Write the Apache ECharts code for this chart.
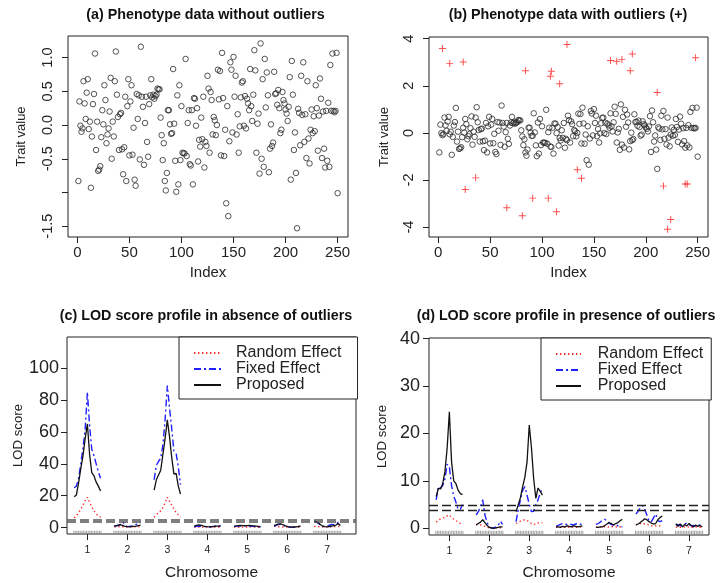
<!DOCTYPE html>
<html><head><meta charset="utf-8">
<script src="https://cdn.jsdelivr.net/npm/echarts@6/dist/echarts.min.js"></script>
<style>html,body{margin:0;padding:0;background:#fff}#c{width:720px;height:583px}</style>
</head><body><div id="c"></div>
<script>
// ---------- data ----------
const traitValues = [
-0.83, 0.35, -0.01, -0.10, -0.05, 0.65, 0.32, 0.09, 0.48, 0.68,
-0.06, 0.05, -0.93, -0.17, 0.31, 0.46, 1.06, -0.37, 0.05, -0.68,
-0.66, -0.61, -0.18, 0.22, 0.01, 0.59, 0.37, -0.27, -0.14, -0.05,
0.20, 0.70, -0.50, 0.05, -0.17, 0.65, 1.09, 0.45, 0.12, -0.37,
0.16, 0.18, -0.36, -0.73, -0.33, 0.42, -0.83, 0.28, 0.68, -0.45,
0.35, 0.59, -0.44, -0.04, -0.81, -0.90, 0.46, 0.09, 0.44, -0.51,
1.16, 0.42, 0.27, -0.59, 0.03, 0.42, -0.25, -0.47, 0.31, 0.44,
0.68, 0.41, 0.45, 0.39, 0.43, 0.45, 0.54, 0.53, 0.53, 0.11,
-0.15, -0.52, -0.27, -0.83, -0.97, -0.71, 0.22, 0.22, 0.01, -0.13,
-0.12, 0.83, 0.02, -0.53, -0.99, 0.44, -0.88, 0.59, -0.52, 0.28,
-0.41, -0.42, -0.42, 0.98, -0.46, 0.03, 0.22, -0.58, -0.60, 0.22,
-0.88, 0.40, 0.39, -0.01, 0.25, -0.54, -0.22, -0.32, 0.11, -0.21,
0.42, -0.63, -0.25, -0.31, 0.73, 0.54, -0.41, 0.49, 0.37, -0.14,
0.12, 0.07, -0.15, 0.00, 0.82, 0.38, 0.80, -0.45, 1.07, 0.40,
-0.46, -0.07, -1.16, 0.28, -1.35, -0.24, 0.93, 0.82, -0.11, 1.01,
0.42, 0.73, -0.14, 0.16, -0.41, -0.02, 0.41, 0.63, 0.65, -0.01,
0.43, -0.05, 0.39, 0.32, 0.22, 0.83, 0.28, 0.06, 0.45, 1.11,
0.81, -0.41, 0.02, 0.17, -0.72, 1.21, -0.50, 0.68, -0.62, 0.98,
0.26, 0.78, 0.44, -0.70, -0.35, 0.01, -0.31, -0.26, 0.79, 0.46,
0.47, 0.30, 0.52, 0.25, -0.12, -0.07, 0.49, 0.37, 0.32, 0.23,
0.17, 0.06, 0.27, 0.71, -0.81, 0.95, 0.45, -0.37, -0.11, -0.71,
-1.53, 0.24, 0.18, -0.30, 0.73, 0.15, 0.93, -0.25, 0.16, -0.49,
0.65, -0.20, -0.57, -0.07, 0.23, -0.12, 0.13, -0.09, 0.59, 0.25,
-0.38, 0.14, 0.69, 0.39, -0.49, 0.20, -0.35, -0.63, 0.21, -0.53,
0.33, -0.62, 0.89, 0.21, 1.06, 0.21, 0.19, 0.21, 1.07, -1.01
];
const outlierIndex = [4, 11, 24, 26, 36, 66, 81, 84, 91, 106, 108, 109, 114, 117, 124, 134, 138, 166, 172, 177, 185, 187, 211, 217, 221, 224, 238, 240, 248];
const outlierValue = [3.58, 2.94, 3.01, -2.40, -1.91, -3.18, -3.52, 2.64, -2.77, -2.77, 2.40, 2.62, -3.35, 2.09, 3.75, -1.57, -1.93, 3.07, 3.04, 3.12, 2.64, 3.35, 1.71, -2.26, -4.09, -3.68, -2.17, -2.17, 3.19];

const indexTicks = [0, 50, 100, 150, 200, 250];
const traitTicksA = [-1.5, -1.0, -0.5, 0.0, 0.5, 1.0];
const traitLabelsA = [-1.5, -0.5, 0.0, 0.5, 1.0];
const traitTicksB = [-4, -2, 0, 2, 4];
const lodTicksC = [0, 20, 40, 60, 80, 100];
const lodTicksD = [0, 10, 20, 30, 40];

const chromosomes = [1, 2, 3, 4, 5, 6, 7];
const positionOffsets = [-0.33, -0.275, -0.22, -0.165, -0.11, -0.055, 0, 0.055, 0.11, 0.165, 0.22, 0.275, 0.33];
const markerOffsets = [-0.34, -0.30, -0.26, -0.22, -0.18, -0.14, -0.10, -0.06, -0.02, 0.02, 0.06, 0.10, 0.14, 0.18, 0.22, 0.26, 0.30, 0.34];
const methodNames = ['Random Effect', 'Fixed Effect', 'Proposed'];
const thresholds = [3.72, 4.78];

const lodC_random = [
 [6.0, 7.5, 9.5, 11.5, 14.0, 17.0, 19.0, 16.0, 13.0, 10.5, 8.5, 7.5, 6.5],
 [0.5, 0.6, 0.6, 0.5, 0.5, 0.4, 0.4, 0.4, 0.5, 0.5, 0.6, 0.6, 0.6],
 [6.5, 8.0, 9.5, 10.5, 12.5, 15.5, 19.0, 16.5, 14.0, 11.5, 9.5, 8.0, 6.5],
 [0.3, 0.4, 0.3, 0.2, 0.3, 0.4, 0.3, 0.2, 0.3, 0.4, 0.3, 0.3, 0.2],
 [0.3, 0.5, 0.2, 0.6, 0.3, 0.5, 0.2, 0.5, 0.3, 0.4, 0.2, 0.3, 0.2],
 [0.8, 0.6, 0.5, 0.6, 0.4, 0.5, 0.3, 0.2, 0.2, 0.3, 0.3, 0.4, 0.4],
 [0.8, 0.7, 0.6, 0.5, 0.4, 0.4, 0.5, 0.5, 0.6, 0.6, 0.7, 0.8, 0.7]
];
const lodC_fixed = [
 [25, 26, 31, 40, 50, 62, 85, 64, 49, 45, 40, 35, 31],
 [1.0, 1.2, 1.5, 2.0, 3.5, 1.2, 0.6, 0.8, 1.0, 1.5, 2.0, 2.3, 3.2],
 [30, 39, 41.5, 43.5, 52, 68, 89, 75, 62, 48, 46.5, 38, 27],
 [0.5, 0.8, 1.0, 0.9, 0.7, 0.6, 0.5, 0.5, 0.6, 0.8, 1.0, 1.2, 1.0],
 [0.6, 0.9, 1.2, 1.0, 0.9, 1.1, 1.2, 1.0, 0.8, 0.9, 0.7, 0.5, 0.4],
 [1.0, 1.5, 2.0, 2.1, 1.7, 1.0, 0.5, 0.3, 0.3, 0.3, 0.4, 0.6, 0.8],
 [3.8, 3.4, 2.6, 1.5, 0.8, 0.6, 0.8, 1.5, 2.0, 1.9, 2.0, 3.4, 2.0]
];
const lodC_proposed = [
 [19.3, 20.5, 28, 37, 45, 56, 65, 46, 34.5, 32.5, 28.5, 26, 23],
 [1.0, 1.2, 1.5, 1.8, 1.3, 0.8, 0.6, 0.5, 0.6, 0.8, 1.0, 1.3, 1.5],
 [23.5, 30, 33, 36, 46, 56, 67.5, 57, 44, 33.5, 34, 26, 21],
 [0.8, 1.4, 1.7, 1.5, 1.1, 0.8, 0.6, 0.5, 0.6, 0.7, 0.9, 1.0, 0.9],
 [0.8, 1.1, 1.3, 1.4, 1.3, 1.2, 1.3, 1.4, 1.2, 1.0, 0.9, 0.8, 0.6],
 [1.2, 1.8, 2.2, 2.3, 1.8, 1.2, 0.7, 0.4, 0.3, 0.4, 0.5, 0.7, 1.0],
 [4.2, 3.8, 3.0, 1.8, 0.9, 0.6, 0.5, 0.7, 1.0, 1.3, 1.6, 2.5, 1.4]
];
const lodD_random = [
 [1.3, 1.7, 2.0, 2.1, 2.3, 2.6, 2.8, 2.3, 1.9, 1.6, 1.3, 1.0, 0.8],
 [0.8, 0.7, 0.7, 0.6, 0.4, 0.2, 0.1, 0.0, 0.0, 0.1, 0.1, 0.1, 0.1],
 [1.0, 1.3, 1.5, 1.7, 1.8, 1.6, 1.4, 1.0, 0.8, 0.9, 1.1, 1.2, 1.2],
 [0.2, 0.2, 0.3, 0.2, 0.2, 0.3, 0.2, 0.2, 0.3, 0.2, 0.2, 0.3, 0.2],
 [0.3, 0.2, 0.3, 0.4, 0.3, 0.2, 0.3, 0.4, 0.3, 0.3, 0.2, 0.3, 0.2],
 [0.7, 0.9, 1.0, 1.1, 0.9, 0.8, 0.7, 0.5, 0.6, 0.5, 0.4, 0.5, 0.4],
 [0.2, 0.3, 0.2, 0.2, 0.3, 0.2, 0.3, 0.2, 0.2, 0.3, 0.2, 0.2, 0.2]
];
const lodD_fixed = [
 [6.0, 8.8, 8.5, 9.0, 10.5, 13.5, 13.0, 9.0, 6.8, 5.5, 4.0, 4.0, 5.0],
 [2.8, 3.5, 4.6, 6.0, 2.8, 1.2, 0.3, 0.0, 0.1, 0.3, 0.6, 1.5, 0.8],
 [1.4, 4.0, 6.0, 8.0, 8.8, 7.0, 5.0, 3.5, 3.6, 5.0, 6.0, 7.5, 8.5],
 [0.4, 0.6, 0.8, 1.0, 0.9, 0.8, 0.9, 0.8, 0.7, 0.9, 1.0, 0.8, 1.0],
 [0.8, 1.0, 1.3, 1.8, 1.9, 1.6, 1.1, 0.8, 0.7, 0.9, 0.5, 0.4, 0.3],
 [3.0, 3.6, 4.3, 4.8, 4.0, 2.8, 1.5, 1.4, 2.2, 3.0, 1.6, 1.4, 1.6],
 [0.6, 0.8, 0.5, 0.7, 0.9, 1.1, 0.8, 0.5, 0.6, 0.4, 0.6, 0.7, 0.5]
];
const lodD_proposed = [
 [6.7, 8.4, 8.3, 9.5, 12.0, 17.0, 24.6, 14.0, 10.0, 9.4, 8.0, 7.3, 7.1],
 [0.7, 1.0, 1.3, 1.8, 1.2, 0.6, 0.2, 0.1, 0.0, 0.1, 0.2, 0.3, 0.3],
 [3.5, 5.0, 6.5, 8.8, 10.8, 14.0, 21.8, 17.0, 10.5, 6.3, 8.5, 7.8, 7.0],
 [0.3, 0.3, 0.2, 0.4, 0.3, 0.5, 0.4, 0.3, 0.5, 0.4, 0.3, 0.4, 0.5],
 [0.2, 0.2, 0.3, 0.3, 0.6, 0.9, 1.2, 1.0, 0.7, 1.0, 1.2, 1.6, 1.9],
 [0.7, 0.9, 1.2, 1.6, 2.0, 1.8, 1.4, 1.1, 0.9, 1.0, 1.8, 2.3, 2.6],
 [1.0, 0.4, 0.9, 0.3, 0.8, 0.5, 1.0, 0.6, 0.3, 0.7, 0.4, 0.6, 0.3]
];

// ---------- styling ----------
const FONT = '"Liberation Sans", Arial, sans-serif';
const INK = '#222';
const lineStyles = [
  {color: '#ff2a2a', width: 1.4, type: [1.4, 2.6]},
  {color: '#2020ff', width: 1.4, type: [7, 3, 2, 3]},
  {color: '#111111', width: 1.3, type: 'solid'}
];

function valueAxis(grid, min, max, ticks, labels, opts) {
  return Object.assign({
    type: 'value', gridIndex: grid, min: min, max: max,
    splitLine: {show: false},
    axisLine: {show: false, onZero: false},
    axisTick: {show: true, inside: false, length: 6, customValues: ticks, lineStyle: {color: INK, width: 1}},
    axisLabel: {customValues: labels, color: INK, fontFamily: FONT, fontSize: 15},
    nameLocation: 'middle',
    nameTextStyle: {color: INK, fontFamily: FONT, fontSize: 15}
  }, opts || {});
}

function lodSeries(sets, xi, yi) {
  const out = [];
  sets.forEach((methodData, m) => {
    methodData.forEach((vals, k) => {
      out.push({
        type: 'line', name: methodNames[m], xAxisIndex: xi, yAxisIndex: yi,
        symbol: 'none', silent: true, z: 2 + m,
        lineStyle: lineStyles[m], itemStyle: {color: lineStyles[m].color},
        data: positionOffsets.map((o, j) => [chromosomes[k] + o, vals[j]])
      });
    });
  });
  return out;
}

function rugSeries(xi, yi, level, lineColor, lineWidth) {
  return {
    type: 'scatter', xAxisIndex: xi, yAxisIndex: yi, silent: true, z: 1,
    symbol: 'rect', symbolSize: [1, 3.5], itemStyle: {color: '#8c8c8c'},
    data: chromosomes.flatMap(c => markerOffsets.map(o => [c + o, level])),
    markLine: {
      silent: true, symbol: ['none', 'none'], label: {show: false},
      lineStyle: {color: lineColor, width: lineWidth, type: [9, 4]},
      data: thresholds.map(t => ({yAxis: t}))
    }
  };
}

const plusPath = 'path://M-1,-0.14L1,-0.14L1,0.14L-1,0.14Z M-0.14,-1L0.14,-1L0.14,1L-0.14,1Z';

const titleStyle = {fontFamily: FONT, fontSize: 14.3, fontWeight: 'bold', color: '#111', lineHeight: 16};
const legendBase = {
  orient: 'vertical', data: methodNames, selectedMode: false,
  itemHeight: 14, itemGap: 0, borderColor: INK, borderWidth: 1, borderRadius: 0,
  backgroundColor: '#fff',
  itemStyle: {color: 'rgba(0,0,0,0)', borderWidth: 0, opacity: 0}
};

const option = {
  animation: false,
  backgroundColor: '#fff',
  title: [
    {text: '(a) Phenotype data without outliers', left: 205.5, top: 7, textAlign: 'center', padding: 0, textStyle: titleStyle},
    {text: '(b) Phenotype data with outliers (+)', left: 568, top: 7, textAlign: 'center', padding: 0, textStyle: titleStyle},
    {text: '(c) LOD score profile in absence of outliers', left: 206, top: 308, textAlign: 'center', padding: 0, textStyle: titleStyle},
    {text: '(d) LOD score profile in presence of outliers', left: 566, top: 308, textAlign: 'center', padding: 0, textStyle: titleStyle}
  ],
  legend: [
    Object.assign({}, legendBase, {left: 179, top: 337, padding: [8, 16, 6, 14], itemWidth: 27,
      textStyle: {fontFamily: FONT, fontSize: 16, lineHeight: 15.3, color: INK, padding: [0, 0, 0, 10]}}),
    Object.assign({}, legendBase, {left: 541, top: 338, padding: [8, 8, 6, 14], itemWidth: 25,
      textStyle: {fontFamily: FONT, fontSize: 16, lineHeight: 15.3, color: INK, padding: [0, 0, 0, 11.7]}})
  ],
  grid: [
    {left: 68, top: 36, width: 280, height: 201, show: true, borderColor: INK, borderWidth: 1, backgroundColor: 'transparent'},
    {left: 429, top: 37, width: 279, height: 200, show: true, borderColor: INK, borderWidth: 1, backgroundColor: 'transparent'},
    {left: 67, top: 337, width: 289, height: 197, show: true, borderColor: INK, borderWidth: 1, backgroundColor: 'transparent'},
    {left: 429, top: 338, width: 280, height: 197, show: true, borderColor: INK, borderWidth: 1, backgroundColor: 'transparent'}
  ],
  xAxis: [
    valueAxis(0, -8.96, 259.96, indexTicks, indexTicks, {name: 'Index', nameGap: 28.5}),
    valueAxis(1, -8.96, 259.96, indexTicks, indexTicks, {name: 'Index', nameGap: 28}),
    valueAxis(2, 0.49, 7.72, chromosomes, chromosomes, {name: 'Chromosome', nameGap: 30.5,
      axisLabel: {customValues: chromosomes, color: INK, fontFamily: FONT, fontSize: 10.5, margin: 11},
      nameTextStyle: {color: INK, fontFamily: FONT, fontSize: 15.5}}),
    valueAxis(3, 0.49, 7.5, chromosomes, chromosomes, {name: 'Chromosome', nameGap: 30,
      axisLabel: {customValues: chromosomes, color: INK, fontFamily: FONT, fontSize: 10.5, margin: 11},
      nameTextStyle: {color: INK, fontFamily: FONT, fontSize: 15.5}})
  ],
  yAxis: [
    valueAxis(0, -1.66, 1.32, traitTicksA, traitLabelsA, {name: 'Trait value', nameGap: 40.5, nameRotate: 90,
      nameTextStyle: {color: INK, fontFamily: FONT, fontSize: 13},
      axisLabel: {customValues: traitLabelsA, rotate: 90, margin: 13, color: INK, fontFamily: FONT, fontSize: 14.5,
        formatter: v => Number(v).toFixed(1)}}),
    valueAxis(1, -4.42, 4.07, traitTicksB, traitTicksB, {name: 'Trait value', nameGap: 38.5, nameRotate: 90,
      nameTextStyle: {color: INK, fontFamily: FONT, fontSize: 13},
      axisLabel: {customValues: traitTicksB, rotate: 90, margin: 13, color: INK, fontFamily: FONT, fontSize: 14.5}}),
    valueAxis(2, -4, 119.5, lodTicksC, lodTicksC, {name: 'LOD score', nameGap: 39, nameRotate: 90,
      nameTextStyle: {color: INK, fontFamily: FONT, fontSize: 13.2},
      axisLabel: {customValues: lodTicksC, margin: 8, color: INK, fontFamily: FONT, fontSize: 18}}),
    valueAxis(3, -1.42, 40.15, lodTicksD, lodTicksD, {name: 'LOD score', nameGap: 39.8, nameRotate: 90,
      nameTextStyle: {color: INK, fontFamily: FONT, fontSize: 13.2},
      axisLabel: {customValues: lodTicksD, margin: 9, color: INK, fontFamily: FONT, fontSize: 18}})
  ],
  series: [
    {type: 'scatter', xAxisIndex: 0, yAxisIndex: 0, silent: true, symbol: 'circle', symbolSize: 5.5,
     itemStyle: {color: 'rgba(0,0,0,0)', borderColor: '#2a2a2a', borderWidth: 1},
     data: traitValues.map((v, i) => [i + 1, v])},
    {type: 'scatter', xAxisIndex: 1, yAxisIndex: 1, silent: true, symbol: 'circle', symbolSize: 5.5,
     itemStyle: {color: 'rgba(0,0,0,0)', borderColor: '#2a2a2a', borderWidth: 1},
     data: traitValues.map((v, i) => [i + 1, v])},
    {type: 'scatter', xAxisIndex: 1, yAxisIndex: 1, silent: true, symbol: plusPath, symbolSize: 7, z: 3,
     itemStyle: {color: '#ff2020'},
     data: outlierIndex.map((x, i) => [x, outlierValue[i]])},
    rugSeries(2, 2, -3.07, '#555', 1.6),
    rugSeries(3, 3, -0.91, '#222', 1.3)
  ].concat(
    lodSeries([lodC_random, lodC_fixed, lodC_proposed], 2, 2),
    lodSeries([lodD_random, lodD_fixed, lodD_proposed], 3, 3)
  )
};

const chart = echarts.init(document.getElementById('c'), null, {renderer: 'canvas'});
chart.setOption(option);
</script>
</body></html>
